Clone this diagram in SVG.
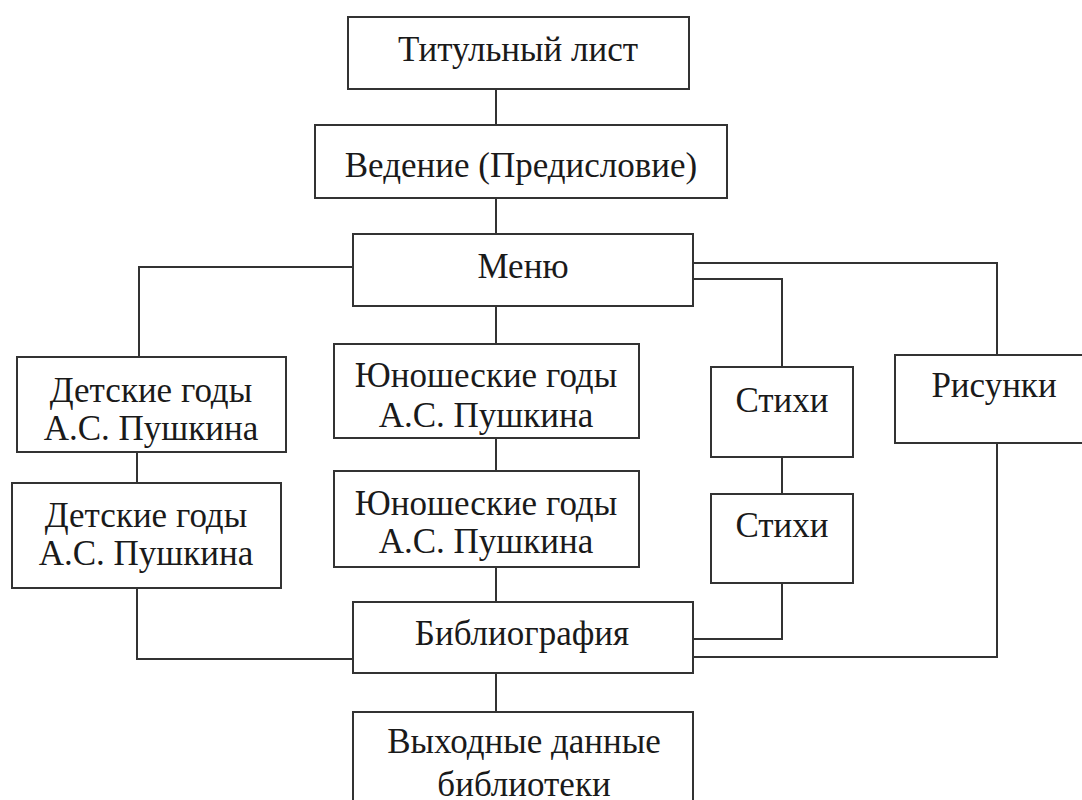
<svg xmlns="http://www.w3.org/2000/svg" width="1082" height="800" viewBox="0 0 1082 800">
<style>
.box{fill:#fff;stroke:#333;stroke-width:2}
.ln{fill:none;stroke:#333;stroke-width:2}
.t{font-family:'Liberation Serif','DejaVu Serif','Times New Roman',serif;font-size:35px;fill:#1a1a1a;text-anchor:middle}
</style>
<rect width="1082" height="800" fill="#fff"/>
<g id="connectors">
<path class="ln" d="M496 89V125M496 198V234M496 306V344M496 438V471M496 567V602M496 673V712"/>
<path class="ln" d="M353 267H139V357M137 452V483M137 588V659H353"/>
<path class="ln" d="M693 263H997V355M693 279H782V367M782 457V494M782 583V639H693M997 443V657H693"/>
</g>
<g class="t" font-family="Liberation Serif, DejaVu Serif, serif">
<g id="n-title"><rect class="box" x="348" y="17" width="341" height="72"/><text x="518" y="61">Титульный лист</text></g>
<g id="n-intro"><rect class="box" x="315" y="125" width="412" height="73"/><text x="521" y="177">Ведение (Предисловие)</text></g>
<g id="n-menu"><rect class="box" x="353" y="234" width="340" height="72"/><text x="523" y="278">Меню</text></g>
<g id="n-child1"><rect class="box" x="17" y="357" width="269" height="95"/><text x="151" y="402">Детские годы</text><text x="151" y="440">А.С. Пушкина</text></g>
<g id="n-child2"><rect class="box" x="12" y="483" width="269" height="105"/><text x="146" y="527">Детские годы</text><text x="146" y="565">А.С. Пушкина</text></g>
<g id="n-youth1"><rect class="box" x="334" y="344" width="305" height="94"/><text x="486" y="387">Юношеские годы</text><text x="486" y="427">А.С. Пушкина</text></g>
<g id="n-youth2"><rect class="box" x="334" y="471" width="305" height="96"/><text x="486" y="515">Юношеские годы</text><text x="486" y="553">А.С. Пушкина</text></g>
<g id="n-poems1"><rect class="box" x="711" y="367" width="142" height="90"/><text x="782" y="412">Стихи</text></g>
<g id="n-poems2"><rect class="box" x="711" y="494" width="142" height="89"/><text x="782" y="537">Стихи</text></g>
<g id="n-pics"><rect class="box" x="895" y="355" width="198" height="88"/><text x="994" y="397">Рисунки</text></g>
<g id="n-biblio"><rect class="box" x="353" y="602" width="340" height="71"/><text x="522" y="645">Библиография</text></g>
<g id="n-imprint"><rect class="box" x="353" y="712" width="340" height="100"/><text x="524" y="753">Выходные данные</text><text x="524" y="796">библиотеки</text></g>
</g>
</svg>
